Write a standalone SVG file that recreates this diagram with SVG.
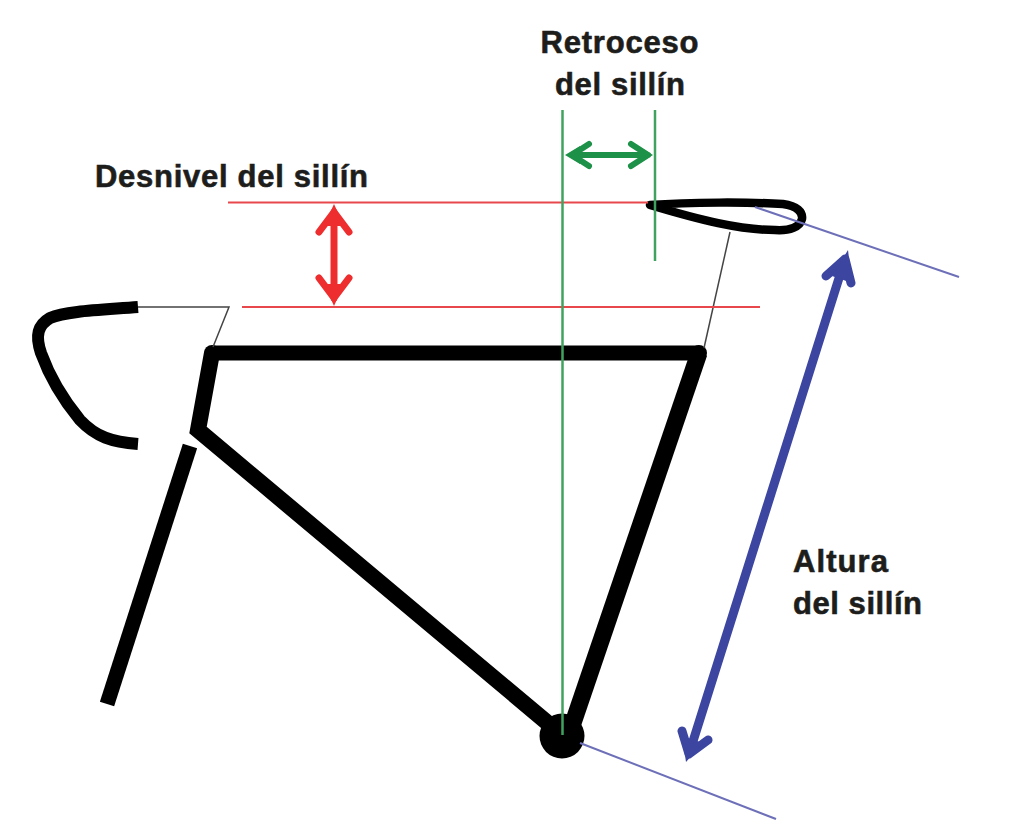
<svg xmlns="http://www.w3.org/2000/svg" width="1029" height="837" viewBox="0 0 1029 837">
<style>
.k{fill:none;stroke:#000;stroke-linejoin:round;stroke-linecap:butt}
.t{fill:none;stroke:#444;stroke-width:1.5}
.r{fill:none;stroke:#e8474c;stroke-width:2}
.g{fill:none;stroke:#3fa35f;stroke-width:2.5}
.b{fill:none;stroke:#6d70b8;stroke-width:2}
.ag{fill:none;stroke:#1e9148;stroke-width:6;stroke-linecap:round;stroke-linejoin:round}
.ar{fill:none;stroke:#ee2e2e;stroke-width:7;stroke-linecap:round;stroke-linejoin:round}
.ab{fill:none;stroke:#3c46a0;stroke-width:9;stroke-linecap:round;stroke-linejoin:round}
.tg{fill:#1e9148}.tr{fill:#ee2e2e}.tb{fill:#3c46a0}
text{font-family:"Liberation Sans",Arial,sans-serif;font-weight:700;font-size:31px;fill:#1d1d1b;stroke:#1d1d1b;stroke-width:.6}
</style>
<rect width="1029" height="837" fill="#fff"/>
<g id="frame">
<path class="k" stroke-width="15" stroke-linecap="round" d="M699 353H212"/>
<path class="k" stroke-width="16" style="stroke-linejoin:miter" d="M212 353L198 430L562 735"/>
<circle cx="212" cy="353" r="8" fill="#000"/>
<path class="k" stroke-width="17" d="M699 353L572 726"/>
<circle cx="699" cy="353" r="8" fill="#000"/>
<path class="k" stroke-width="15" d="M190 446L107 704"/>
<circle cx="562" cy="736" r="22.500" fill="#000"/>
</g>
<g id="handlebar">
<path class="t" d="M138 307H229L213 347"/>
<path class="k" stroke-width="12" d="M138 307C100 310 66 311 50 318C38 325 35 335 41 353C50 378 66 403 80 420C96 437 112 442 138 444"/>
</g>
<g id="saddle">
<path class="t" d="M730 232L704 348"/>
<path class="k" stroke-width="8.500" d="M650 205C690 202 750 202 783 204C797 206 803 212 802 219C800 227 790 231 775 230C740 230 700 220 650 205Z"/>
</g>
<g id="connectors">
<path class="r" d="M228 202.500H648"/>
<path class="r" d="M242 307H760"/>
<path class="g" d="M562.500 110V735"/>
<path class="g" d="M655 110V261"/>
<path class="b" d="M755 207L959 277"/>
<path class="b" d="M580 743L776 819"/>
<path class="ag" d="M572 155H648M589 144L572 155L589 166M631 144L648 155L631 166"/>
<path class="tg" d="M565 155L580 146V164ZM653 155L638 146V164Z"/>
<path class="ar" d="M334 212V298M319 232L334 212L349 232M319 278L334 298L349 278"/>
<path class="tr" d="M334 204L324 226H344ZM334 306L324 284H344Z"/>
<path class="ab" d="M845 259L689 754M826 276L845 259L851 283M682 731L689 754L708 740"/>
<path class="tb" d="M848 250L832 276L852 283ZM686 762L682 736L703 743Z"/>
</g>
<g id="labels">
<text x="619.500" y="53" text-anchor="middle" textLength="158">Retroceso</text>
<text x="620" y="95" text-anchor="middle" textLength="130">del sillín</text>
<text x="95" y="187" textLength="273">Desnivel del sillín</text>
<text x="793" y="572" textLength="95">Altura</text>
<text x="793" y="614" textLength="129">del sillín</text>
</g>
</svg>
